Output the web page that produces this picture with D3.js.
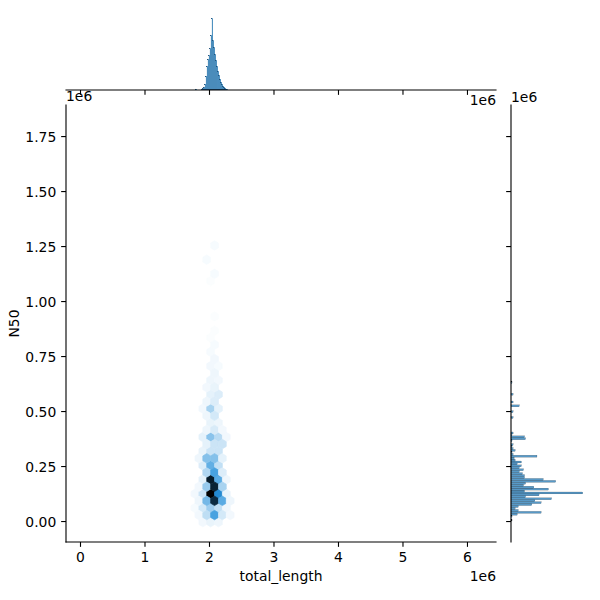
<!DOCTYPE html>
<html><head><meta charset="utf-8">
<script src="https://cdn.jsdelivr.net/npm/d3@7"></script>
<style>body{margin:0;background:#fff}</style>
</head><body>
<svg id="c" width="600" height="600" xmlns="http://www.w3.org/2000/svg"></svg>
<script>
// all values in units of 1e6
const xTicks = [0, 1, 2, 3, 4, 5, 6];
const yTicks = [0, 0.25, 0.5, 0.75, 1.0, 1.25, 1.5, 1.75];
const xExtent = [0.086, 6.147];   // total_length data range
const yExtent = [-0.005, 1.801];  // N50 data range
const gridSize = 50;
// hexbin cells: [column index, row index, count] (half indices = offset lattice)
const hexCells = [
 [15,0,3],[16,0,5],[17,0,4],
 [14.5,0.5,3],[15.5,0.5,15],[16.5,0.5,42],[17.5,0.5,10],[18.5,0.5,3],
 [14,1,2],[15,1,10],[16,1,22],[17,1,14],[18,1,4],
 [14.5,1.5,4],[15.5,1.5,32],[16.5,1.5,85],[17.5,1.5,38],[18.5,1.5,4],
 [14,2,3],[15,2,12],[16,2,100],[17,2,52],[18,2,5],
 [14.5,2.5,3],[15.5,2.5,24],[16.5,2.5,88],[17.5,2.5,20],
 [15,3,6],[16,3,90],[17,3,38],[18,3,4],
 [15.5,3.5,18],[16.5,3.5,42],[17.5,3.5,8],
 [15,4,8],[16,4,36],[17,4,14],
 [14.5,4.5,4],[15.5,4.5,28],[16.5,4.5,28],[17.5,4.5,6],
 [15,5,5],[16,5,12],[17,5,12],
 [15.5,5.5,6],[16.5,5.5,12],[17.5,5.5,12],
 [15,6,6],[16,6,27],[17,6,16],[18,6,3],
 [15.5,6.5,4],[16.5,6.5,9],[17.5,6.5,3],
 [16,7,5],[17,7,4],
 [15.5,7.5,4],[16.5,7.5,10],
 [15,8,3],[16,8,20],[17,8,6],
 [15.5,8.5,4],[16.5,8.5,8],
 [16,9,6],[17,9,8],
 [15.5,9.5,3],[16.5,9.5,5],
 [16,10,4],[17,10,3],
 [16.5,10.5,4],
 [16,11,3],[17,11,2],
 [16.5,11.5,3],
 [16,12,2],
 [16.5,12.5,2],
 [16,13,1],
 [16.5,13.5,1],
 [16.5,14.5,1],
 [16,17,1],
 [16.5,17.5,2],
 [15.5,18.5,2],
 [16.5,19.5,2]
];
// top marginal histogram (total_length)
const topBinStart = 1.798;
const topBinWidth = 0.0155;
const topCounts = [1,0,0,0,0,0,1,2,3,6,14,24,31,35,42,55,72,50,43,36,30,24,19,15,11,8,6,4,3,2,1,1];
// right marginal histogram (N50)
const rightBinStart = 0.0;
const rightBinWidth = 0.0088;
const rightCounts = [1,0,1,6,29,7,4,7,20,29,23,39,14,27,69,13,36,22,12,14,43,31,13,13,11,8,12,8,10,6,10,4,3,25,2,1,4,2,1,2,0,1,14,13,1,2,0,0,0,0,0,0,0,2,0,0,2,0,0,8,0,2,0,0,0,2,0,0,0,0,0,1];

const svg = d3.select("#c");
svg.append("rect").attr("width",600).attr("height",600).attr("fill","#fff");
const FONT = "DejaVu Sans, sans-serif", FS = 13.9, LW = 1.11, TL = 4.86;

const mainL = 66, mainR = 496, mainT = 105, mainB = 542;
const margTopT = 14.7, margTopB = 90, margRL = 511, margRR = 586.3;

const xr = xExtent[1]-xExtent[0], yr = yExtent[1]-yExtent[0];
const x = d3.scaleLinear().domain([xExtent[0]-0.05*xr, xExtent[1]+0.05*xr]).range([mainL, mainR]);
const y = d3.scaleLinear().domain([yExtent[0]-0.05*yr, yExtent[1]+0.05*yr]).range([mainB, mainT]);

// hexbin
const nx = gridSize, ny = Math.floor(gridSize/Math.sqrt(3));
const sx = xr/nx, sy = yr/ny;
const maxCount = d3.max(hexCells, d=>d[2]);
const color = c => d3.hsl(204.56, 0.706, 1 - c/maxCount).formatHex();
const hexOff = [[.5,-.5],[.5,.5],[0,1],[-.5,.5],[-.5,-.5],[0,-1]];
const hexPath = d => {
  const cx = xExtent[0] + d[0]*sx, cy = yExtent[0] + d[1]*sy;
  return "M" + hexOff.map(o => [x(cx + o[0]*sx), y(cy + o[1]*sy/3)].join(",")).join("L") + "Z";
};
const sorted = hexCells.slice().sort((a,b)=> (a[0]%1) - (b[0]%1));
svg.append("g").selectAll("path").data(sorted).join("path")
  .attr("d", hexPath).attr("fill", d=>color(d[2])).attr("stroke", d=>color(d[2])).attr("stroke-width", 0.7);

// main axes
const gx = svg.append("g").attr("transform",`translate(0,${mainB})`)
  .call(d3.axisBottom(x).tickValues(xTicks).tickFormat(d3.format("d")).tickSize(TL).tickPadding(4.86));
const gy = svg.append("g").attr("transform",`translate(${mainL},0)`)
  .call(d3.axisLeft(y).tickValues(yTicks).tickFormat(d3.format(".2f")).tickSize(TL).tickPadding(4.86));
[gx, gy].forEach(g => {
  g.select(".domain").remove();
  g.selectAll("line").attr("stroke","#000").attr("stroke-width",LW);
  g.selectAll("text").attr("font-family",FONT).attr("font-size",FS).attr("fill","#000");
});
gy.selectAll("text").attr("dy","0.36em");
gx.selectAll("text").attr("dy","0.73em");
svg.append("line").attr("x1",mainL).attr("x2",mainL).attr("y1",mainT).attr("y2",mainB).attr("stroke","#000").attr("stroke-width",LW).attr("stroke-linecap","square");
svg.append("line").attr("x1",mainL).attr("x2",mainR).attr("y1",mainB).attr("y2",mainB).attr("stroke","#000").attr("stroke-width",LW).attr("stroke-linecap","square");

// top marginal
const yTop = d3.scaleLinear().domain([0, d3.max(topCounts)*1.05]).range([margTopB, margTopT]);
svg.append("g").selectAll("rect").data(topCounts.map((c,k)=>({c,k})).filter(d=>d.c>0)).join("rect")
  .attr("x", d=>x(topBinStart + d.k*topBinWidth))
  .attr("width", d=>x(topBinStart + (d.k+1)*topBinWidth) - x(topBinStart + d.k*topBinWidth))
  .attr("y", d=>yTop(d.c)).attr("height", d=>yTop(0)-yTop(d.c))
  .attr("fill","#1f77b4").attr("fill-opacity",0.8).attr("stroke","#1f4f78").attr("stroke-width",0.05);
const gtx = svg.append("g").attr("transform",`translate(0,${margTopB})`)
  .call(d3.axisBottom(x).tickValues(xTicks).tickFormat("").tickSize(TL));
gtx.select(".domain").remove();
gtx.selectAll("line").attr("stroke","#000").attr("stroke-width",LW);
svg.append("line").attr("x1",mainL).attr("x2",mainR).attr("y1",margTopB).attr("y2",margTopB).attr("stroke","#000").attr("stroke-width",LW).attr("stroke-linecap","square");

// right marginal
const xRight = d3.scaleLinear().domain([0, d3.max(rightCounts)*1.05]).range([margRL, margRR]);
svg.append("g").selectAll("rect").data(rightCounts.map((c,k)=>({c,k})).filter(d=>d.c>0)).join("rect")
  .attr("x", xRight(0)).attr("width", d=>xRight(d.c)-xRight(0))
  .attr("y", d=>y(rightBinStart + (d.k+1)*rightBinWidth))
  .attr("height", d=>y(rightBinStart + d.k*rightBinWidth) - y(rightBinStart + (d.k+1)*rightBinWidth))
  .attr("fill","#1f77b4").attr("fill-opacity",0.75).attr("stroke","#000").attr("stroke-width",0.15);
const gry = svg.append("g").attr("transform",`translate(${margRL},0)`)
  .call(d3.axisLeft(y).tickValues(yTicks).tickFormat("").tickSize(TL));
gry.select(".domain").remove();
gry.selectAll("line").attr("stroke","#000").attr("stroke-width",LW);
svg.append("line").attr("x1",margRL).attr("x2",margRL).attr("y1",mainT).attr("y2",mainB).attr("stroke","#000").attr("stroke-width",LW).attr("stroke-linecap","square");

// labels
const txt = (s, X, Y, anchor) => svg.append("text").attr("x",X).attr("y",Y).attr("text-anchor",anchor)
  .attr("font-family",FONT).attr("font-size",FS).attr("fill","#000").text(s);
txt("total_length", (mainL+mainR)/2, 581, "middle");
svg.append("text").attr("transform",`translate(19,${(mainT+mainB)/2}) rotate(-90)`).attr("text-anchor","middle")
  .attr("font-family",FONT).attr("font-size",FS).attr("fill","#000").text("N50");
txt("1e6", mainL, 101, "start");
txt("1e6", mainR, 581, "end");
txt("1e6", mainR, 105, "end");
txt("1e6", margRL, 102, "start");
</script>
</body></html>
